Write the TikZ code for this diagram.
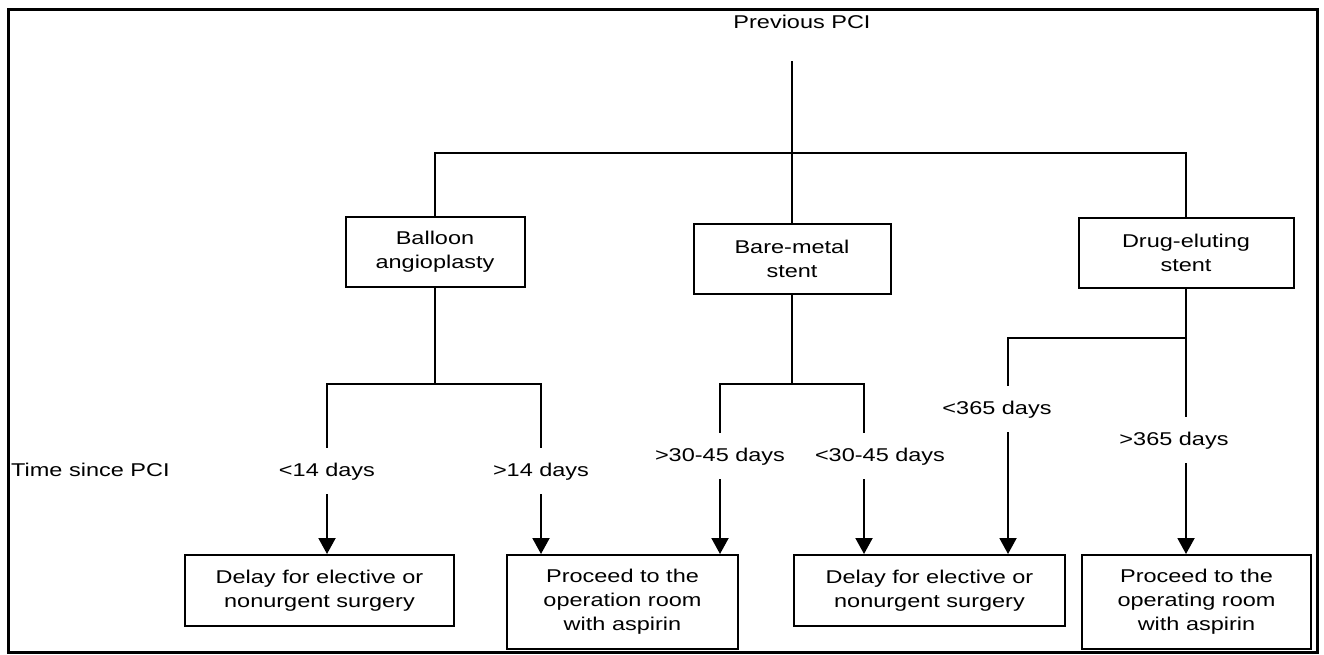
\documentclass[tikz,border=0pt]{standalone}
\usepackage{fontspec}
\setmainfont{Liberation Sans}[FakeStretch=1.27]
\usetikzlibrary{arrows.meta}
\begin{document}
\begin{tikzpicture}[x=1pt,y=-1pt,
  font=\fontsize{18.5pt}{24pt}\selectfont,
  conn/.style={line width=2pt},
  arr/.style={line width=2pt,-{Triangle[width=17pt,length=16pt]}},
  box/.style={draw,line width=2pt,align=center,inner sep=0pt},
  lab/.style={inner xsep=0pt,inner ysep=14pt,text height=14pt,text depth=4pt,anchor=base}
]
\useasboundingbox (0,0) rectangle (1324,654);
\fill[white] (0,0) rectangle (1324,654);
\draw[line width=3pt] (8,9) rectangle (1317,652);

% texts
\node[anchor=base] (prev) at (802,28) {Previous PCI};
\node[lab,anchor=base west] (tsp) at (11,476) {Time since PCI};

% first level boxes
\node[box,minimum width=179pt,minimum height=70pt] (bal) at (435,252) {Balloon\\angioplasty};
\node[box,minimum width=197pt,minimum height=70pt] (bms) at (792,259) {Bare-metal\\stent};
\node[box,minimum width=215pt,minimum height=70pt] (des) at (1186,253) {Drug-eluting\\stent};

% bottom boxes
\node[box,minimum width=269pt,minimum height=71pt] (d1) at (319.5,590.5) {Delay for elective or\\nonurgent surgery};
\node[box,minimum width=231pt,minimum height=94pt] (p1) at (622.5,602) {Proceed to the\\operation room\\with aspirin};
\node[box,minimum width=271pt,minimum height=71pt] (d2) at (929.5,590.5) {Delay for elective or\\nonurgent surgery};
\node[box,minimum width=229pt,minimum height=94pt] (p2) at (1196.5,602) {Proceed to the\\operating room\\with aspirin};

% labels
\node[lab] (l1) at (327,476) {<14 days};
\node[lab] (l2) at (541,476) {>14 days};
\node[lab] (l3) at (720,461) {>30-45 days};
\node[lab] (l4) at (880,461) {<30-45 days};
\node[lab] (l5) at (997,414) {<365 days};
\node[lab] (l6) at (1174,445) {>365 days};

% junctions
\coordinate (rt) at (792,61);
\coordinate (hr) at (1186,153);
\coordinate (bj) at (435,384);
\coordinate (mj) at (792,384);
\coordinate (mr) at (864,384);
\coordinate (dj) at (1186,338);
\coordinate (dl) at (1008,338);

% top tree
\draw[conn] (rt) -- (bms.north);
\draw[conn] (bal.north) -- (bal.north |- hr) -- (hr) -- (des.north);

% balloon branch
\draw[conn] (bal.south) -- (bj);
\draw[conn] (l1.north) |- (bj) -| (l2.north);
\draw[arr] (l1.south) -- (l1.south |- d1.north);
\draw[arr] (l2.south) -- (l2.south |- p1.north);

% bare-metal branch
\draw[conn] (bms.south) -- (mj);
\draw[conn] (l3.north) |- (mj) -- (mr) -- (mr |- l4.north);
\draw[arr] (l3.south) -- (l3.south |- p1.north);
\draw[arr] (mr |- l4.south) -- (mr |- d2.north);

% drug-eluting branch
\draw[conn] (des.south) -- (dj) -- (dl) -- (dl |- l5.north);
\draw[conn] (dj) -- (dj |- l6.north);
\draw[arr] (dl |- l5.south) -- (dl |- d2.north);
\draw[arr] (dj |- l6.south) -- (dj |- p2.north);
\end{tikzpicture}
\end{document}
